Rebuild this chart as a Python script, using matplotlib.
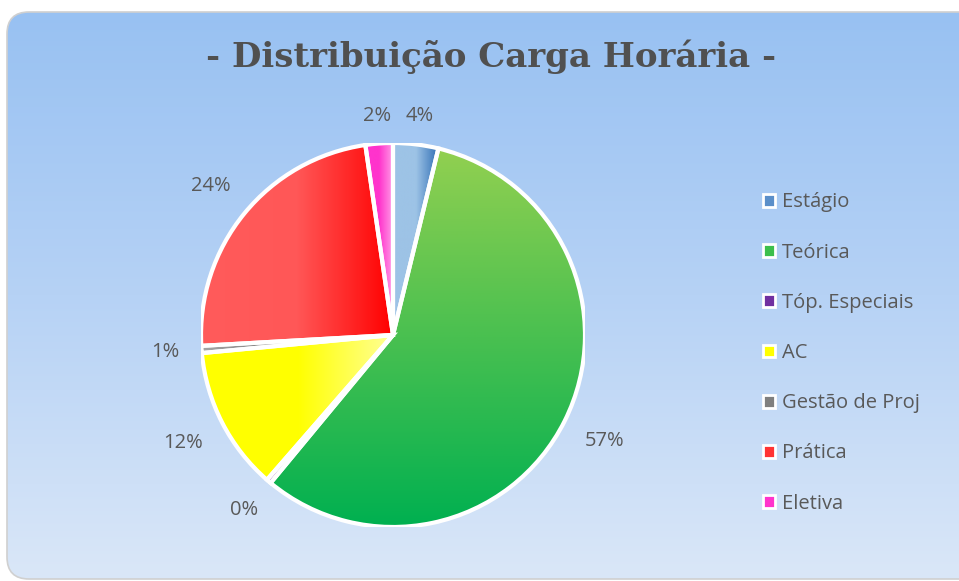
import numpy as np
import matplotlib
matplotlib.use("Agg")
import matplotlib.pyplot as plt
from matplotlib.patches import FancyBboxPatch, Wedge, Rectangle
from matplotlib.colors import LinearSegmentedColormap

# ---- data ----
categories = ["Estágio", "Teórica", "Tóp. Especiais", "AC", "Gestão de Proj", "Prática", "Eletiva"]
values = [3.8, 57.2, 0.4, 12.1, 0.6, 23.6, 2.3]
title = "- Distribuição Carga Horária -"

# ---- styles: gradient stops per slice (direction h = left->right, v = top->bottom) ----
gradients = [
    (["#9DC3E6", "#9DC3E6", "#2E6DB4"], "h"),
    (["#92D050", "#00B050"], "v"),
    (["#9A5CC8", "#5B2A8C"], "h"),
    (["#FFFF00", "#FFFF00", "#FFFF99"], "h"),
    (["#A6A6A6", "#404040"], "h"),
    (["#FF5B5B", "#FF5757", "#FF0000"], "h"),
    (["#FF33CC", "#FF33CC", "#FF99E6"], "h"),
]
legend_colors = ["#5B8FC9", "#3CBF4C", "#7030A0", "#FFFF00", "#7F7F7F", "#FF3333", "#FF33CC"]

W, H = 959, 581
fig = plt.figure(figsize=(W / 100, H / 100), dpi=100)
fig.patch.set_facecolor("white")

# background rounded panel with vertical gradient
bg = fig.add_axes([0, 0, 1, 1], zorder=0)
bg.axis("off")
panel = FancyBboxPatch((7, 12), 980, 567, boxstyle="round,pad=0,rounding_size=22",
                       facecolor="none", edgecolor="#D0D0D0", linewidth=1.2, zorder=2)
bg.add_patch(panel)
bgcmap = LinearSegmentedColormap.from_list("bg", ["#98C1F2", "#B6D2F5", "#DAE7F8"])
grad_img = np.linspace(0, 1, 256).reshape(-1, 1)
im = bg.imshow(grad_img, cmap=bgcmap, extent=[7, 987, 579, 12], aspect="auto", zorder=1)
im.set_clip_path(panel)
bg.set_xlim(0, W)
bg.set_ylim(H, 0)

fig.text(491 / W, 1 - 57 / H, title, ha="center", va="center",
         fontsize=24.5, fontweight="bold", family="DejaVu Serif", color="#505050")

# pie axes
cx, cy, R = 393, 335, 192
ax = fig.add_axes([(cx - R) / W, (H - cy - R) / H, 2 * R / W, 2 * R / H], zorder=1)
ax.set_facecolor("none")
wedges, _ = ax.pie(values, startangle=90, counterclock=False, radius=1,
                   wedgeprops=dict(linewidth=0))
ax.set_xlim(-1, 1)
ax.set_ylim(-1, 1)
ax.set_aspect("equal")
ax.axis("off")

renderer = fig.canvas.get_renderer()
total = sum(values)
gap_px = 21
for w, v, (stops, d) in zip(wedges, values, gradients):
    t1, t2 = w.theta1, w.theta2
    ang = np.deg2rad(np.linspace(t1, t2, 100))
    xs = np.concatenate([[0], w.r * np.cos(ang)])
    ys = np.concatenate([[0], w.r * np.sin(ang)])
    x0, x1, y0, y1 = xs.min(), xs.max(), ys.min(), ys.max()
    if x1 - x0 < 1e-3:
        x1 = x0 + 1e-3
    if y1 - y0 < 1e-3:
        y1 = y0 + 1e-3
    cmap = LinearSegmentedColormap.from_list("g", stops)
    w.set_facecolor(stops[len(stops) // 2])
    if d == "h":
        arr = np.linspace(0, 1, 256).reshape(1, -1)
    else:
        arr = np.linspace(0, 1, 256).reshape(-1, 1)
    img = ax.imshow(arr, cmap=cmap, extent=[x0, x1, y0, y1], origin="upper", aspect="auto", zorder=2)
    img.set_clip_path(w)
    edge = Wedge((0, 0), w.r, t1, t2, fill=False, edgecolor="white", linewidth=3, zorder=4)
    ax.add_patch(edge)
    mid = np.deg2rad((t1 + t2) / 2)
    c, s = np.cos(mid), np.sin(mid)
    t = ax.text(0, 0, f"{v / total * 100:.0f}%", ha="center", va="center",
                fontsize=14.5, family="Open Sans", color="#595959")
    bb = t.get_window_extent(renderer)
    hw, hh = bb.width / 2, bb.height / 2 * 0.5
    dist = (R + gap_px + hw * abs(c) + hh * abs(s) + 8 * abs(c * s)) / R
    t.set_position((dist * c, dist * s))

ax.set_xlim(-1, 1)
ax.set_ylim(-1, 1)

handles = [Rectangle((0, 0), 1, 1, facecolor=col, edgecolor="white", linewidth=2.0)
           for col in legend_colors]
leg = fig.legend(handles, categories, loc="center left", bbox_to_anchor=(745 / W, 1 - 353 / H),
                 frameon=False, prop={"family": "Open Sans", "size": 14.5},
                 handlelength=0.6, handleheight=0.6, handletextpad=0.35, labelspacing=1.5)
for tx in leg.get_texts():
    tx.set_color("#595959")

fig.savefig("out.png", dpi=100)
